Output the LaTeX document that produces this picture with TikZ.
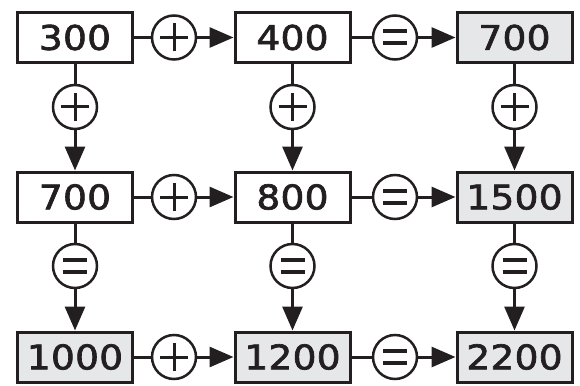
\documentclass[tikz,border=0pt]{standalone}
\usepackage{fontspec}
\newfontfamily\numfont[FakeStretch=1.1,FakeBold=2,LetterSpace=1]{DejaVu Sans}
\usetikzlibrary{arrows.meta}
\definecolor{ink}{HTML}{231F20}
\definecolor{boxgray}{HTML}{E6E7E9}
\tikzset{
  numbox/.style={draw=ink, line width=3pt, minimum width=115pt, minimum height=50pt,
    inner sep=0pt, font=\numfont\fontsize{34}{34}\selectfont, text=ink, fill=white},
  sumbox/.style={numbox, fill=boxgray},
  opcirc/.style={draw=ink, line width=2.5pt, circle, minimum size=44pt, inner sep=0pt, fill=white},
  conn/.style={draw=ink, line width=3pt},
  arr/.style={conn, -{Triangle[length=24pt,width=20pt]}},
}
\newcommand{\plussign}[1]{%
  \draw[ink, line width=3pt] ([xshift=-14pt]#1.center) -- ([xshift=14pt]#1.center);
  \draw[ink, line width=3pt] ([yshift=-14pt]#1.center) -- ([yshift=14pt]#1.center);}
\newcommand{\eqsign}[1]{%
  \draw[ink, line width=4pt] ([xshift=-12pt,yshift=-6pt]#1.center) -- ([xshift=12pt,yshift=-6pt]#1.center);
  \draw[ink, line width=4pt] ([xshift=-12pt,yshift=6pt]#1.center) -- ([xshift=12pt,yshift=6pt]#1.center);}
\begin{document}
\begin{tikzpicture}[x=1pt,y=-1pt]
\useasboundingbox (0,0) rectangle (580,385);
% boxes
\node[numbox] (a) at (75,37.5) {300};
\node[numbox] (b) at (292.5,37.5) {400};
\node[sumbox] (c) at (514.5,37.5) {700};
\node[numbox] (d) at (75,197) {700};
\node[numbox] (e) at (292.5,197) {800};
\node[sumbox] (f) at (514.5,197) {1500};
\node[sumbox] (g) at (75,357) {1000};
\node[sumbox] (h) at (292.5,357) {1200};
\node[sumbox] (i) at (514.5,357) {2200};
% horizontal operators
\node[opcirc] (ab) at (174,37.5) {};
\node[opcirc] (bc) at (395,37.5) {};
\node[opcirc] (de) at (174,197) {};
\node[opcirc] (ef) at (395,197) {};
\node[opcirc] (gh) at (174,357) {};
\node[opcirc] (hi) at (395,357) {};
% vertical operators
\node[opcirc] (ad) at (75,107) {};
\node[opcirc] (be) at (292.5,107) {};
\node[opcirc] (cf) at (514.5,107) {};
\node[opcirc] (dg) at (75,266) {};
\node[opcirc] (eh) at (292.5,266) {};
\node[opcirc] (fi) at (514.5,266) {};
% connectors
\foreach \s/\o/\t in {a/ab/b, b/bc/c, d/de/e, e/ef/f, g/gh/h, h/hi/i,
                      a/ad/d, b/be/e, c/cf/f, d/dg/g, e/eh/h, f/fi/i} {
  \draw[conn] (\s) -- (\o);
  \draw[arr] (\o) -- (\t);
}
% signs
\plussign{ab}\eqsign{bc}
\plussign{de}\eqsign{ef}
\plussign{gh}\eqsign{hi}
\plussign{ad}\plussign{be}\plussign{cf}
\eqsign{dg}\eqsign{eh}\eqsign{fi}
\end{tikzpicture}
\end{document}
